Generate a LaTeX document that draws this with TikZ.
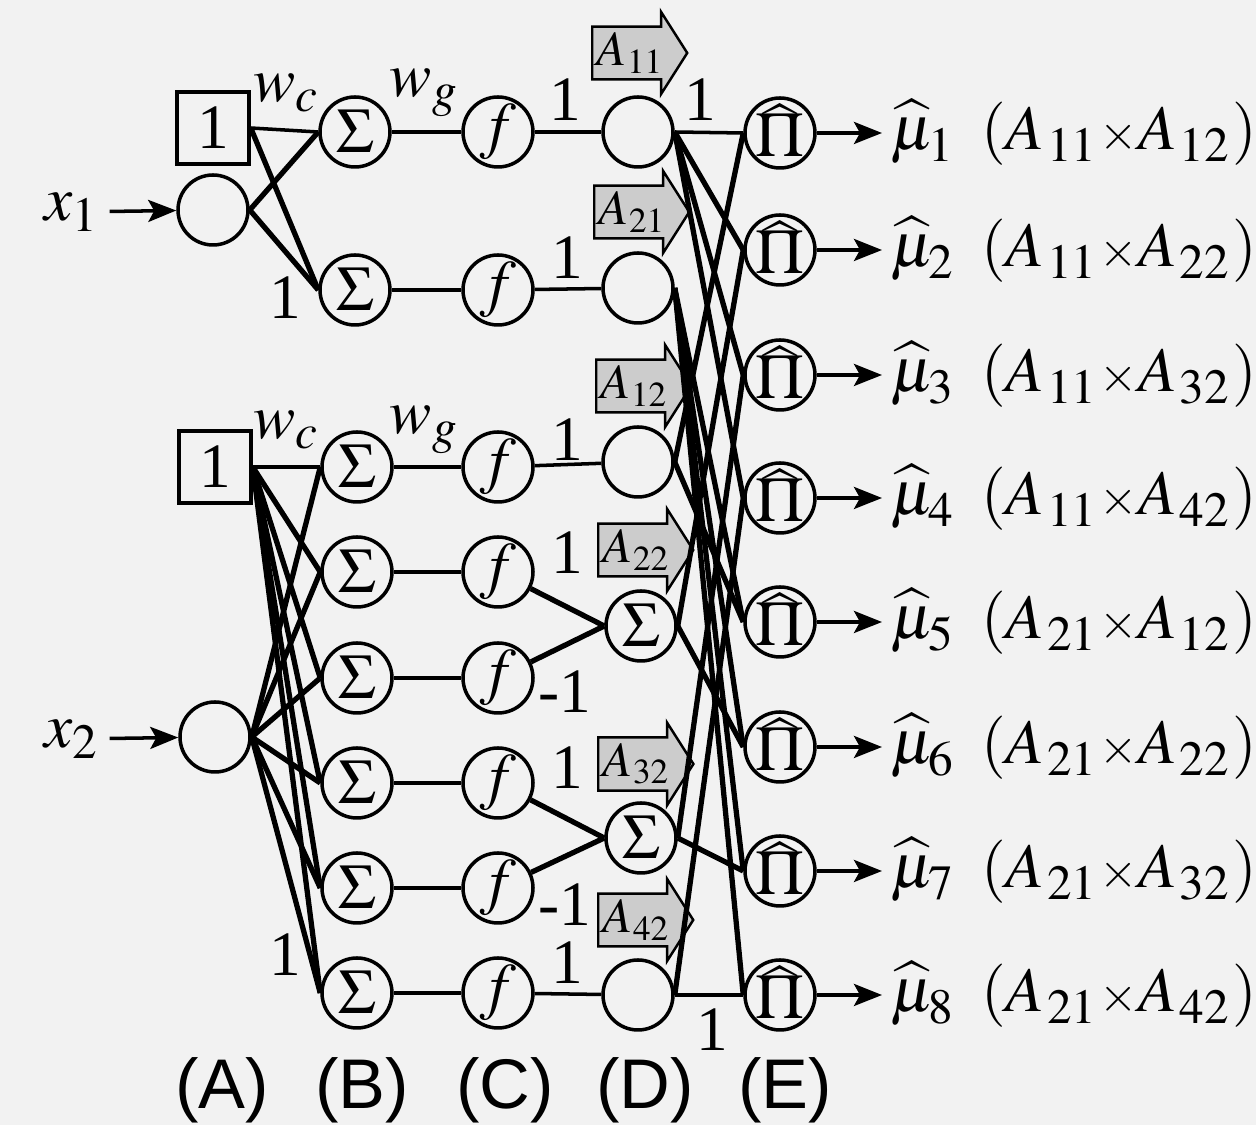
\documentclass[tikz,border=0pt]{standalone}
\usepackage{mathptmx}
\usepackage[no-math]{fontspec}
\setmainfont{Liberation Serif}
\newfontfamily\layerfont{Liberation Sans}
\usetikzlibrary{arrows.meta,shapes.arrows}

\tikzset{
  unit/.style={circle,draw,line width=0.5pt,minimum size=3.5mm,inner sep=0pt,
    text height=2.1mm,text depth=0pt},
  sfun/.style={unit,text height=1.9mm,text depth=0.4mm},
  prod/.style={unit,text height=2.4mm},
  bias/.style={draw,line width=0.5pt,minimum size=3.6mm,inner sep=0pt},
  grade/.style={single arrow,draw,line width=0.35pt,fill=black!20,anchor=west,
    inner xsep=0.5pt,inner ysep=0.7pt,single arrow head extend=2.1pt,
    single arrow head indent=0pt,single arrow tip angle=115,
    font=\fontsize{7}{8}\selectfont},
  wire/.style={line width=0.5pt},
  bold wire/.style={line width=0.75pt},
  feed/.style={line width=0.5pt,-{Stealth[length=1.4mm,width=1.1mm,inset=0.3mm]}},
  sig/.style={inner sep=1pt},
  wt/.style={inner sep=0pt},
  layer/.style={font=\fontsize{10}{12}\selectfont\layerfont},
}
\newcommand\pihat{\rlap{\raisebox{-1.2pt}{$\widehat{\phantom{\Pi}}$}}$\Pi$}
\newcommand\grades[2]{(A_{\mkern1mu#1}{\scriptstyle\times}A_{\mkern1mu#2})}

\begin{document}
\begin{tikzpicture}[x=0.05mm,y=-0.05mm,font=\fontsize{9}{11}\selectfont]
\useasboundingbox (0,0) rectangle (1256,1125);
\fill[black!5] (0,0) rectangle (1256,1125);

% (A) inputs
\node[bias] (c1) at (213,128) {1};
\node[unit] (in1) at (213,210) {};
\node[sig] (x1) at (73,212) {$x_1$};
\node[bias] (c2) at (215,467) {1};
\node[unit] (in2) at (215,737) {};
\node[sig] (x2) at (73,739) {$x_2$};

% (B) sums
\node[unit] (s1) at (355,132) {$\Sigma$};
\node[unit] (s2) at (355,290) {$\Sigma$};
\node[unit] (s3) at (357,467) {$\Sigma$};
\node[unit] (s4) at (357,572) {$\Sigma$};
\node[unit] (s5) at (357,678) {$\Sigma$};
\node[unit] (s6) at (357,783) {$\Sigma$};
\node[unit] (s7) at (357,888) {$\Sigma$};
\node[unit] (s8) at (357,993) {$\Sigma$};

% (C) sigmoids
\node[sfun] (f1) at (498,132) {$f$};
\node[sfun] (f2) at (498,290) {$f$};
\node[sfun] (f3) at (498,467) {$f$};
\node[sfun] (f4) at (498,572) {$f$};
\node[sfun] (f5) at (498,678) {$f$};
\node[sfun] (f6) at (498,783) {$f$};
\node[sfun] (f7) at (498,888) {$f$};
\node[sfun] (f8) at (498,993) {$f$};

% (D) grades
\node[unit] (d1) at (638,132) {};
\node[unit] (d2) at (638,288) {};
\node[unit] (d3) at (638,462) {};
\node[unit] (d4) at (641,626) {$\Sigma$};
\node[unit] (d5) at (641,838) {$\Sigma$};
\node[unit] (d6) at (638,995) {};
\node[grade] (a11) at (591,53) {$A_{11}$};
\node[grade] (a21) at (593,212) {$A_{21}$};
\node[grade] (a12) at (595,386) {$A_{12}$};
\node[grade] (a22) at (597,550) {$A_{22}$};
\node[grade] (a32) at (597,764) {$A_{32}$};
\node[grade] (a42) at (597,920) {$A_{42}$};

% (E) products
\node[prod] (e1) at (780,133) {\pihat};
\node[prod] (e2) at (780,250) {\pihat};
\node[prod] (e3) at (780,375) {\pihat};
\node[prod] (e4) at (780,498) {\pihat};
\node[prod] (e5) at (780,622) {\pihat};
\node[prod] (e6) at (780,747) {\pihat};
\node[prod] (e7) at (780,871) {\pihat};
\node[prod] (e8) at (780,995) {\pihat};

\node[sig,anchor=west] (mu1) at (882,133) {$\widehat{\mu}_1\hspace{3.5pt}\grades{11}{12}$};
\node[sig,anchor=west] (mu2) at (882,250) {$\widehat{\mu}_2\hspace{3.5pt}\grades{11}{22}$};
\node[sig,anchor=west] (mu3) at (882,375) {$\widehat{\mu}_3\hspace{3.5pt}\grades{11}{32}$};
\node[sig,anchor=west] (mu4) at (882,498) {$\widehat{\mu}_4\hspace{3.5pt}\grades{11}{42}$};
\node[sig,anchor=west] (mu5) at (882,622) {$\widehat{\mu}_5\hspace{3.5pt}\grades{21}{12}$};
\node[sig,anchor=west] (mu6) at (882,747) {$\widehat{\mu}_6\hspace{3.5pt}\grades{21}{22}$};
\node[sig,anchor=west] (mu7) at (882,871) {$\widehat{\mu}_7\hspace{3.5pt}\grades{21}{32}$};
\node[sig,anchor=west] (mu8) at (882,995) {$\widehat{\mu}_8\hspace{3.5pt}\grades{21}{42}$};

% weights
\node[wt] (wc1) at (287,93) {$w_c$};
\node[wt] (wg1) at (425,93) {$w_g$};
\node[wt] (wc2) at (287,430) {$w_c$};
\node[wt] (wg2) at (425,430) {$w_g$};
\node[wt] (one1) at (285,298) {1};
\node[wt] (one2) at (285,955) {1};
\node[wt] (k1) at (565,100) {1};
\node[wt] (k2) at (567,258) {1};
\node[wt] (k3) at (567,440) {1};
\node[wt] (k4) at (567,553) {1};
\node[wt] (k5) at (565,692) {-1};
\node[wt] (k6) at (567,768) {1};
\node[wt] (k7) at (565,905) {-1};
\node[wt] (k8) at (567,963) {1};
\node[wt] (p1) at (700,100) {1};
\node[wt] (p2) at (712,1030) {1};

% layer names
\node[layer] (la) at (222,1090) {(A)};
\node[layer] (lb) at (362,1090) {(B)};
\node[layer] (lc) at (505,1090) {(C)};
\node[layer] (ld) at (645,1090) {(D)};
\node[layer] (le) at (785,1090) {(E)};

% inputs
\draw[feed] (x1) -- (in1);
\draw[feed] (x2) -- (in2);

% A to B
\draw[wire] (c1.east) -- (s1.west);
\draw[bold wire] (c1.east) -- (s2.west);
\draw[bold wire] (in1.east) -- (s1.west);
\draw[bold wire] (in1.east) -- (s2.west);
\draw[wire] (c2.east) -- (s3.west);
\draw[bold wire] (c2.east) -- (s4.west);
\draw[bold wire] (c2.east) -- (s5.west);
\draw[bold wire] (c2.east) -- (s6.west);
\draw[bold wire] (c2.east) -- (s7.west);
\draw[bold wire] (c2.east) -- (s8.west);
\draw[bold wire] (in2.east) -- (s3.west);
\draw[bold wire] (in2.east) -- (s4.west);
\draw[bold wire] (in2.east) -- (s5.west);
\draw[bold wire] (in2.east) -- (s6.west);
\draw[bold wire] (in2.east) -- (s7.west);
\draw[bold wire] (in2.east) -- (s8.west);

% B to C
\draw[wire] (s1) -- (f1);
\draw[wire] (s2) -- (f2);
\draw[wire] (s3) -- (f3);
\draw[wire] (s4) -- (f4);
\draw[wire] (s5) -- (f5);
\draw[wire] (s6) -- (f6);
\draw[wire] (s7) -- (f7);
\draw[wire] (s8) -- (f8);

% C to D
\draw[wire] (f1) -- (d1);
\draw[wire] (f2) -- (d2);
\draw[wire] (f3) -- (d3);
\draw[bold wire] (f4) -- (d4.west);
\draw[bold wire] (f5) -- (d4.west);
\draw[bold wire] (f6) -- (d5.west);
\draw[bold wire] (f7) -- (d5.west);
\draw[wire] (f8) -- (d6);

% D to E
\draw[wire] (d1.east) -- (e1.west);
\draw[bold wire] (d1.east) -- (e2.west);
\draw[bold wire] (d1.east) -- (e3.west);
\draw[bold wire] (d1.east) -- (e4.west);
\draw[bold wire] (d2.east) -- (e5.west);
\draw[bold wire] (d2.east) -- (e6.west);
\draw[bold wire] (d2.east) -- (e7.west);
\draw[bold wire] (d2.east) -- (e8.west);
\draw[bold wire] (d3.east) -- (e1.west);
\draw[bold wire] (d3.east) -- (e5.west);
\draw[bold wire] (d4.east) -- (e2.west);
\draw[bold wire] (d4.east) -- (e6.west);
\draw[bold wire] (d5.east) -- (e3.west);
\draw[bold wire] (d5.east) -- (e7.west);
\draw[bold wire] (d6.east) -- (e4.west);
\draw[wire] (d6.east) -- (e8.west);

% outputs
\draw[feed] (e1) -- (mu1);
\draw[feed] (e2) -- (mu2);
\draw[feed] (e3) -- (mu3);
\draw[feed] (e4) -- (mu4);
\draw[feed] (e5) -- (mu5);
\draw[feed] (e6) -- (mu6);
\draw[feed] (e7) -- (mu7);
\draw[feed] (e8) -- (mu8);
\end{tikzpicture}
\end{document}
